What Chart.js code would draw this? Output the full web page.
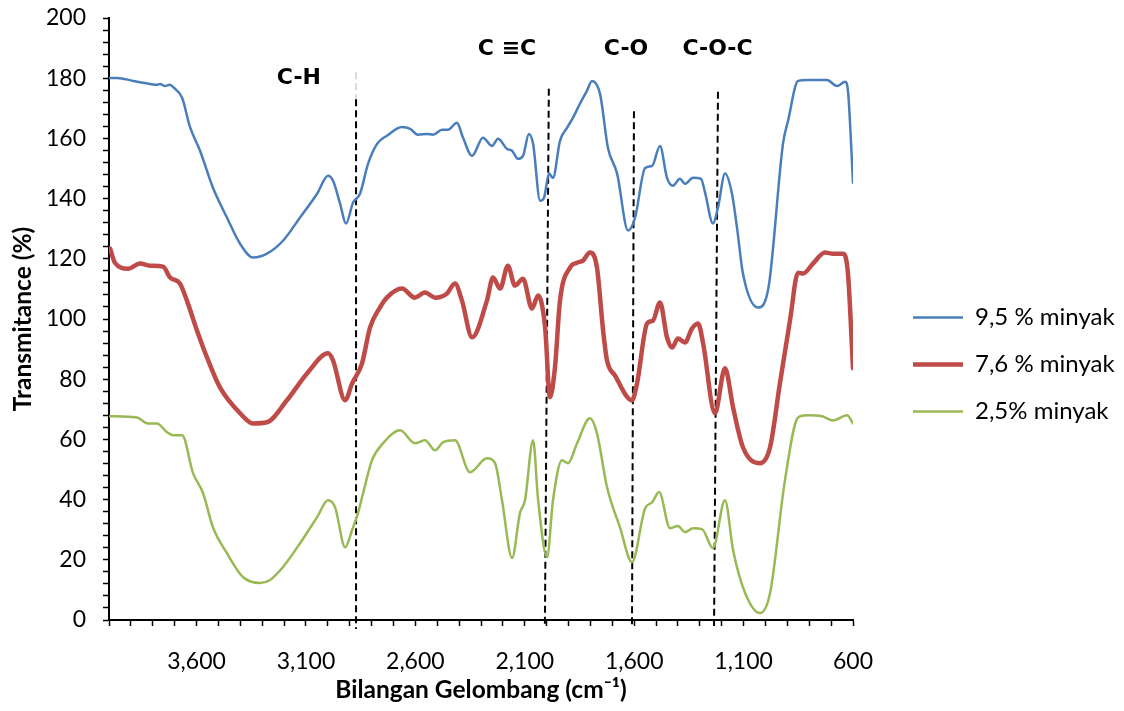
<!DOCTYPE html>
<html>
<head>
<meta charset="utf-8">
<script src="https://cdn.jsdelivr.net/npm/chart.js@4.4.1/dist/chart.umd.min.js"></script>
<style>
  html, body { margin: 0; padding: 0; background: #fff; }
  #wrap { width: 1124px; height: 711px; position: relative; }
</style>
</head>
<body>
<div id="wrap"><canvas id="ftir"></canvas></div>
<script>
// Spektrum FTIR — tiga konsentrasi minyak

const seriesNames = ['9,5 % minyak', '7,6 % minyak', '2,5% minyak'];
const seriesColors = ['#4A7EBB', '#BE4B48', '#98B954'];
const seriesWidths = [2.5, 4.5, 2.5];

// 9,5 % minyak
const blueWave = [3995, 3963, 3890, 3813, 3781, 3767, 3744, 3721, 3708, 3666, 3630, 3584, 3525, 3461, 3401, 3342, 3278, 3205, 3127, 3049,
    2999, 2976, 2944, 2917, 2885, 2853, 2816, 2775, 2730, 2661, 2624, 2588, 2547, 2519, 2478, 2451, 2410, 2382, 2341, 2291,
    2250, 2222, 2181, 2158, 2131, 2108, 2081, 2062, 2030, 2012, 1989, 1971, 1939, 1907, 1880, 1848, 1816, 1793, 1756, 1720,
    1678, 1628, 1596, 1550, 1518, 1482, 1450, 1423, 1391, 1368, 1331, 1295, 1276, 1240, 1217, 1185, 1153, 1130, 1103, 1034,
    985, 920, 897, 851, 810, 719, 673, 636, 623, 600];
const blueT = [180.1, 180.1, 179.1, 178.1, 177.8, 178.1, 177.4, 177.8, 177.1, 173.5, 163.8, 155.9, 143.6, 133.7, 125.0, 120.4, 121.7, 126.0, 133.7, 141.6,
    147.6, 145.9, 138.3, 131.7, 138.6, 141.6, 151.6, 158.2, 160.9, 163.8, 163.2, 161.2, 161.5, 161.2, 162.9, 162.9, 165.2, 160.2, 154.2, 160.2,
    157.5, 159.9, 156.5, 155.9, 153.2, 154.2, 161.5, 158.2, 139.3, 140.3, 148.3, 146.9, 159.2, 163.5, 166.8, 171.5, 175.8, 179.1, 174.8, 156.9,
    148.3, 129.4, 133.7, 150.2, 150.9, 157.5, 146.9, 144.3, 146.6, 144.9, 146.9, 146.6, 142.0, 131.7, 137.0, 148.3, 141.6, 130.3, 115.1, 103.8,
    111.0, 158.2, 165.8, 179.1, 179.4, 179.4, 177.4, 178.8, 175.8, 145.3];

// 7,6 % minyak
const redWave = [3995, 3973, 3913, 3858, 3813, 3753, 3721, 3676, 3644, 3598, 3552, 3493, 3401, 3342, 3278, 3187, 3095, 2999, 2976, 2921,
    2889, 2844, 2807, 2762, 2730, 2661, 2602, 2556, 2510, 2455, 2419, 2387, 2341, 2273, 2245, 2213, 2177, 2145, 2108, 2067,
    2039, 2007, 1985, 1962, 1939, 1893, 1861, 1834, 1802, 1770, 1742, 1724, 1688, 1610, 1587, 1541, 1514, 1482, 1450, 1427,
    1400, 1368, 1336, 1308, 1285, 1231, 1185, 1148, 1103, 1025, 979, 934, 888, 851, 828, 783, 728, 691, 646, 623, 600];
const redT = [123.4, 118.7, 116.7, 118.4, 117.7, 117.4, 113.8, 111.8, 106.1, 96.2, 87.2, 77.3, 68.7, 65.3, 65.7, 73.0, 81.9, 88.6, 86.2, 73.0,
    78.6, 85.2, 97.2, 103.8, 107.1, 110.1, 107.1, 108.8, 107.1, 108.5, 111.8, 106.1, 93.9, 106.1, 113.8, 110.1, 117.7, 111.1, 113.4, 103.5,
    107.8, 97.2, 74.0, 83.9, 106.1, 117.1, 118.7, 119.4, 122.1, 117.1, 96.2, 86.2, 81.3, 73.0, 78.6, 98.5, 99.5, 105.5, 93.9, 90.5,
    93.5, 92.2, 96.8, 98.5, 91.9, 68.7, 83.6, 70.6, 57.4, 52.1, 57.4, 78.6, 99.5, 115.4, 115.1, 118.4, 122.1, 121.7, 121.7, 115.1, 83.6];

// 2,5% minyak
const greenWave = [3995, 3872, 3822, 3781, 3735, 3708, 3666, 3616, 3570, 3525, 3461, 3388, 3310, 3264, 3205, 3127, 3049, 2999, 2967, 2921,
    2889, 2862, 2839, 2798, 2748, 2670, 2602, 2556, 2510, 2474, 2419, 2350, 2273, 2236, 2204, 2158, 2122, 2099, 2062, 2039,
    1998, 1971, 1930, 1902, 1861, 1802, 1770, 1724, 1665, 1610, 1550, 1518, 1486, 1436, 1400, 1368, 1331, 1290, 1240, 1185,
    1148, 1093, 1025, 979, 911, 851, 810, 742, 691, 627, 600];
const greenT = [67.7, 67.3, 65.3, 65.3, 62.4, 61.4, 61.4, 48.8, 42.1, 30.8, 22.2, 14.3, 12.3, 13.3, 17.6, 25.5, 34.2, 39.8, 37.5, 24.2,
    29.9, 35.5, 42.1, 53.1, 58.7, 63.0, 58.7, 59.7, 56.4, 59.0, 59.7, 49.1, 53.7, 52.1, 39.8, 20.6, 35.5, 39.8, 59.7, 39.8,
    20.9, 39.8, 53.1, 52.1, 58.7, 67.0, 62.0, 44.1, 30.8, 19.2, 37.1, 39.1, 42.5, 30.5, 31.2, 29.2, 30.5, 30.2, 23.9, 39.8,
    23.2, 9.0, 2.3, 9.0, 46.4, 67.3, 68.0, 67.7, 66.3, 68.0, 65.3];

// Garis putus-putus gugus fungsi
const bandNames = ['C-H', 'C \u2261C', 'C-O', 'C-O-C'];
const bandTopWave = [2871, 1990, 1601, 1217];
const bandBottomWave = [2871, 2008, 1610, 1235];
const bandTopT = [173, 176.5, 169, 175.5];
const bandBottomT = [-3, -2, -2, -2];
const bandLabelWave = [3132, 2181, 1637, 1219];
const bandLabelT = [180.1, 189.7, 189.7, 189.7];
// bagian atas C-H yang pudar
const fadedWave = [2871, 2871];
const fadedT = [182, 173];

const xLabelTicks = [3600, 3100, 2600, 2100, 1600, 1100, 600];
const yLabelTicks = [0, 20, 40, 60, 80, 100, 120, 140, 160, 180, 200];

const FONT = "Lato, 'Open Sans', sans-serif";
const PLOT_RIGHT = 853;   // tepi kanan area plot
const LEGEND_X = 913;     // awal garis legenda
const LEGEND_PAD = 23;

const toPoints = (xs, ys) => xs.map((x, i) => ({ x, y: ys[i] }));

const curveSets = [[blueWave, blueT], [redWave, redT], [greenWave, greenT]].map(([w, t], i) => ({
    label: seriesNames[i],
    data: toPoints(w, t),
    borderColor: seriesColors[i],
    backgroundColor: seriesColors[i],
    borderWidth: seriesWidths[i],
    borderCapStyle: 'round',
    pointRadius: 0,
    cubicInterpolationMode: 'monotone',
    fill: false,
    yAxisID: 'y',
}));

const bandSets = bandNames.map((name, i) => ({
    label: name,
    data: [{ x: bandTopWave[i], y: bandTopT[i] }, { x: bandBottomWave[i], y: bandBottomT[i] }],
    borderColor: '#000',
    borderWidth: 2,
    borderDash: [7, 4],
    pointRadius: 0,
    tension: 0,
    clip: false,
    yAxisID: 'y',
}));

const fadedSet = {
    label: 'faded',
    data: toPoints(fadedWave, fadedT),
    borderColor: '#d9d9d9',
    borderWidth: 2,
    borderDash: [7, 4],
    pointRadius: 0,
    clip: false,
    yAxisID: 'y',
};

const bandLabels = {
    id: 'bandLabels',
    afterDatasetsDraw(chart) {
        const { ctx, scales } = chart;
        ctx.save();
        ctx.font = "bold 22px 'DejaVu Sans'";
        ctx.fillStyle = '#000';
        ctx.textAlign = 'center';
        ctx.textBaseline = 'middle';
        bandNames.forEach((name, i) => {
            ctx.fillText(name, scales.x.getPixelForValue(bandLabelWave[i]), scales.y.getPixelForValue(bandLabelT[i]));
        });
        ctx.restore();
    }
};

// Legenda di kanan: beri jarak antara area plot dan legenda
const legendGap = {
    id: 'legendGap',
    beforeLayout(chart) {
        const lg = chart.legend;
        if (!lg || lg._gapPatched) return;
        const fit = lg.fit;
        lg.fit = function () {
            fit.call(this);
            this.width = chart.width - PLOT_RIGHT;
        };
        lg._gapPatched = true;
    },
    afterLayout(chart) {
        const lg = chart.legend;
        if (!lg) return;
        lg.left = LEGEND_X - LEGEND_PAD;
        lg.right = lg.left + lg.width;
    }
};

new Chart(document.getElementById('ftir'), {
    type: 'line',
    data: { datasets: [...curveSets, ...bandSets, fadedSet] },
    plugins: [bandLabels, legendGap],
    options: {
        responsive: true,
        maintainAspectRatio: false,
        animation: false,
        layout: { padding: { top: 18, left: 0, right: 0, bottom: 0 } },
        plugins: {
            tooltip: { enabled: false },
            legend: {
                position: 'right',
                labels: {
                    filter: (item) => item.datasetIndex < 3,
                    boxWidth: 50,
                    boxHeight: 0,
                    padding: LEGEND_PAD,
                    color: '#000',
                    font: { family: FONT, size: 24 },
                },
            },
        },
        scales: {
            x: {
                type: 'linear',
                reverse: true,
                min: 600,
                max: 4000,
                afterFit: (s) => { s.height = 91; },
                border: { display: true, color: '#000', width: 2 },
                grid: { drawOnChartArea: false, drawTicks: true, tickLength: 6, tickWidth: 1.5, color: '#000' },
                ticks: {
                    stepSize: 100,
                    maxTicksLimit: 100,
                    autoSkip: false,
                    maxRotation: 0,
                    minRotation: 0,
                    padding: 22,
                    color: '#000',
                    font: { family: FONT, size: 23 },
                    callback: (v) => xLabelTicks.includes(v) ? v.toLocaleString('en-US') : '',
                },
                title: {
                    display: true,
                    text: 'Bilangan Gelombang (cm\u207B\u00B9)',
                    color: '#000',
                    padding: { top: 4, bottom: 6 },
                    font: { family: FONT, size: 24.5, weight: 'bold' },
                },
            },
            y: {
                min: 0,
                max: 200,
                afterFit: (s) => {
                    s.width = 109;
                    s.paddingTop = 0;
                    s.paddingBottom = 0;
                },
                border: { display: true, color: '#000', width: 2 },
                grid: { drawOnChartArea: false, drawTicks: true, tickLength: 6, tickWidth: 1.5, color: '#000' },
                ticks: {
                    stepSize: 4,
                    maxTicksLimit: 100,
                    autoSkip: false,
                    padding: 17,
                    color: '#000',
                    font: { family: FONT, size: 23 },
                    callback: (v) => yLabelTicks.includes(v) ? v : '',
                },
                title: {
                    display: true,
                    text: 'Transmitance (%)',
                    color: '#000',
                    padding: { top: 8, bottom: 0 },
                    font: { family: FONT, size: 24.5, weight: 'bold' },
                },
            },
        },
    },
});
</script>
</body>
</html>
